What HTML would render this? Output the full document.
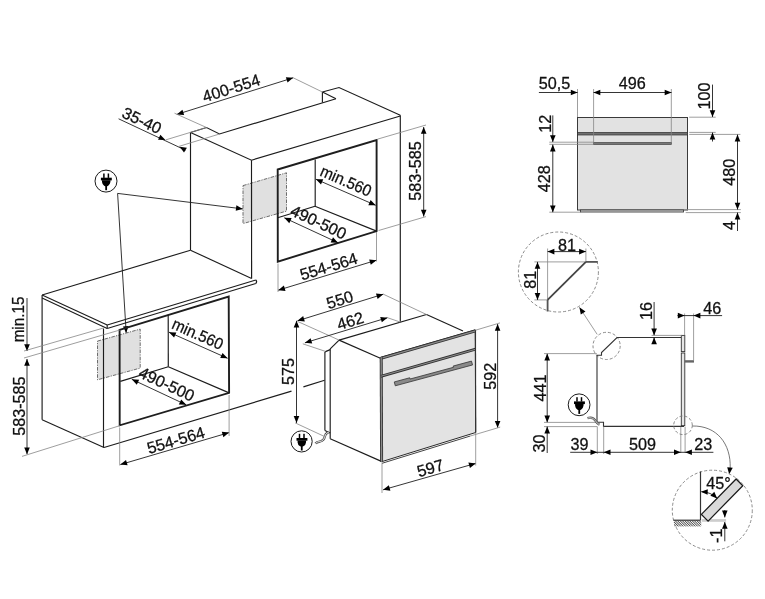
<!DOCTYPE html>
<html><head><meta charset="utf-8"><style>
html,body{margin:0;padding:0;background:#fff;}
svg{display:block;font-family:"Liberation Sans",sans-serif;will-change:transform;}
</style></head><body>
<svg width="765" height="599" viewBox="0 0 765 599">
<defs><pattern id="hatch" width="1.7" height="1.7" patternUnits="userSpaceOnUse" patternTransform="rotate(-45)"><rect width="1.7" height="1.7" fill="#fff"/><line x1="0.4" y1="0" x2="0.4" y2="1.7" stroke="#3a3a3a" stroke-width="0.8"/></pattern></defs>
<rect width="765" height="599" fill="#fff"/>
<polygon points="243.0,185.6 286.5,172.8 286.5,211.1 243.0,223.6" fill="#e0e0e0" stroke="#555" stroke-width="0.85" stroke-dasharray="3.6,1.2,1.2,1.2"/>
<polyline points="190.5,132.5 206.5,127.5 219.5,134.0 336.0,98.8" stroke="#1c1c1c" stroke-width="1.15" fill="none"/>
<line x1="322.4" y1="92.0" x2="336.0" y2="98.8" stroke="#1c1c1c" stroke-width="1.15" fill="none"/>
<line x1="322.4" y1="92.0" x2="322.4" y2="102.4" stroke="#1c1c1c" stroke-width="1.15" fill="none"/>
<polyline points="322.4,92.0 339.0,87.5 400.3,115.2" stroke="#1c1c1c" stroke-width="1.15" fill="none"/>
<polyline points="190.5,132.5 251.5,160.2 400.3,116.0" stroke="#1c1c1c" stroke-width="1.15" fill="none"/>
<line x1="190.5" y1="132.5" x2="190.5" y2="250.2" stroke="#1c1c1c" stroke-width="1.15" fill="none"/>
<line x1="251.5" y1="160.2" x2="251.6" y2="278.6" stroke="#1c1c1c" stroke-width="1.15" fill="none"/>
<line x1="400.3" y1="115.2" x2="400.3" y2="321.5" stroke="#1c1c1c" stroke-width="1.15" fill="none"/>
<line x1="190.5" y1="250.2" x2="251.6" y2="278.6" stroke="#1c1c1c" stroke-width="1.15" fill="none"/>
<polygon points="277.7,169.5 376.6,140.1 376.6,231.1 277.8,261.6" stroke="#1e1e1e" stroke-width="1.9" fill="none"/>
<line x1="315.2" y1="159.4" x2="315.2" y2="206.3" stroke="#1c1c1c" stroke-width="1.15" fill="none"/>
<line x1="315.0" y1="206.3" x2="376.6" y2="231.1" stroke="#1c1c1c" stroke-width="1.15" fill="none"/>
<line x1="277.7" y1="217.8" x2="315.0" y2="206.3" stroke="#1c1c1c" stroke-width="1.15" fill="none"/>
<line x1="118.6" y1="118.8" x2="185.5" y2="150.2" stroke="#1e1e1e" stroke-width="0.9" fill="none"/>
<polygon points="165.40,140.00 158.05,139.74 160.36,134.64" fill="#000"/>
<polygon points="179.60,146.70 186.88,147.76 184.02,152.58" fill="#000"/>
<line x1="165.7" y1="139.9" x2="206.5" y2="127.5" stroke="#858585" stroke-width="0.8" fill="none"/>
<line x1="177.9" y1="146.7" x2="219.5" y2="134.0" stroke="#858585" stroke-width="0.8" fill="none"/>
<text transform="translate(142.0,120.3) rotate(25.5) scale(1.0,1)" x="0" y="5.80" text-anchor="middle" font-size="16.2" fill="#111" stroke="#111" stroke-width="0.28">35-40</text>
<line x1="176.8" y1="114.4" x2="293.2" y2="77.8" stroke="#1e1e1e" stroke-width="0.9" fill="none"/>
<polygon points="176.80,114.40 182.45,109.69 184.13,115.03" fill="#000"/>
<polygon points="293.20,77.80 287.55,82.51 285.87,77.17" fill="#000"/>
<line x1="174.5" y1="113.2" x2="206.5" y2="127.5" stroke="#858585" stroke-width="0.8" fill="none"/>
<line x1="293.2" y1="77.8" x2="322.4" y2="92.0" stroke="#858585" stroke-width="0.8" fill="none"/>
<text transform="translate(231.2,88.0) rotate(-17.45) scale(1.0,1)" x="0" y="5.80" text-anchor="middle" font-size="16.2" fill="#111" stroke="#111" stroke-width="0.28">400-554</text>
<line x1="423.7" y1="127.0" x2="423.7" y2="216.6" stroke="#1e1e1e" stroke-width="0.9" fill="none"/>
<polygon points="423.70,127.00 426.50,133.80 420.90,133.80" fill="#000"/>
<polygon points="423.70,216.60 420.90,209.80 426.50,209.80" fill="#000"/>
<line x1="378.0" y1="139.0" x2="426.0" y2="125.0" stroke="#858585" stroke-width="0.8" fill="none"/>
<line x1="378.6" y1="230.5" x2="426.0" y2="216.6" stroke="#858585" stroke-width="0.8" fill="none"/>
<text transform="translate(415.0,171.0) rotate(-90) scale(1.0,1)" x="0" y="5.80" text-anchor="middle" font-size="16.2" fill="#111" stroke="#111" stroke-width="0.28">583-585</text>
<line x1="315.9" y1="179.2" x2="375.7" y2="205.3" stroke="#1e1e1e" stroke-width="0.9" fill="none"/>
<polygon points="315.90,179.20 323.25,179.35 321.01,184.49" fill="#000"/>
<polygon points="375.70,205.30 368.35,205.15 370.59,200.01" fill="#000"/>
<text transform="translate(346.1,180.7) rotate(23.6) scale(0.94,1)" x="0" y="5.80" text-anchor="middle" font-size="16.2" fill="#111" stroke="#111" stroke-width="0.28">min.560</text>
<line x1="284.3" y1="217.8" x2="338.0" y2="242.7" stroke="#1e1e1e" stroke-width="0.9" fill="none"/>
<polygon points="284.30,217.80 291.65,218.12 289.29,223.20" fill="#000"/>
<polygon points="338.00,242.70 330.65,242.38 333.01,237.30" fill="#000"/>
<text transform="translate(318.7,221.9) rotate(24.9) scale(1.0,1)" x="0" y="5.80" text-anchor="middle" font-size="16.2" fill="#111" stroke="#111" stroke-width="0.28">490-500</text>
<line x1="278.2" y1="290.2" x2="376.5" y2="260.2" stroke="#1e1e1e" stroke-width="0.9" fill="none"/>
<polygon points="278.20,290.20 283.89,285.54 285.52,290.89" fill="#000"/>
<polygon points="376.50,260.20 370.81,264.86 369.18,259.51" fill="#000"/>
<line x1="278.0" y1="263.6" x2="278.0" y2="292.0" stroke="#858585" stroke-width="0.8" fill="none"/>
<line x1="376.5" y1="232.0" x2="376.5" y2="261.5" stroke="#858585" stroke-width="0.8" fill="none"/>
<text transform="translate(328.6,266.3) rotate(-17.0) scale(1.0,1)" x="0" y="5.80" text-anchor="middle" font-size="16.2" fill="#111" stroke="#111" stroke-width="0.28">554-564</text>
<g transform="translate(106.0,181.1)"><circle cx="0" cy="0" r="11" stroke="#1a1a1a" stroke-width="1" fill="#fff"/><rect x="-2.85" y="-7.6" width="1.5" height="4.4" fill="#000"/><rect x="1.65" y="-7.6" width="1.5" height="4.4" fill="#000"/><rect x="-5.1" y="-3.4" width="10.9" height="2.7" fill="#000"/><path d="M-4.0,-0.8 L4.5,-0.8 L4.4,1.0 Q4.0,3.6 2.2,4.6 L1.2,5.2 L-0.9,5.2 L-1.9,4.6 Q-3.7,3.6 -4.0,1.0 Z" fill="#000"/><rect x="-0.75" y="4.5" width="1.8" height="4.6" fill="#000"/></g>
<line x1="117.6" y1="193.4" x2="242.8" y2="208.9" stroke="#1e1e1e" stroke-width="0.9" fill="none"/>
<polygon points="242.80,208.90 235.71,210.84 236.40,205.29" fill="#000"/>
<line x1="117.6" y1="193.4" x2="126.2" y2="333.0" stroke="#1e1e1e" stroke-width="0.9" fill="none"/>
<polygon points="126.20,333.00 122.99,326.39 128.58,326.04" fill="#000"/>
<polygon points="97.5,341.1 140.2,329.1 140.2,368.1 97.5,379.8" fill="#e0e0e0" stroke="#555" stroke-width="0.85" stroke-dasharray="3.6,1.2,1.2,1.2"/>
<line x1="42.1" y1="295.0" x2="190.5" y2="250.2" stroke="#1c1c1c" stroke-width="1.15" fill="none"/>
<line x1="42.1" y1="295.0" x2="107.2" y2="325.0" stroke="#1c1c1c" stroke-width="1.15" fill="none"/>
<line x1="42.1" y1="298.0" x2="107.2" y2="328.5" stroke="#1c1c1c" stroke-width="1.15" fill="none"/>
<line x1="42.1" y1="295.0" x2="42.1" y2="298.0" stroke="#1c1c1c" stroke-width="1.15" fill="none"/>
<line x1="107.2" y1="325.0" x2="255.8" y2="280.0" stroke="#1c1c1c" stroke-width="1.15" fill="none"/>
<line x1="107.2" y1="328.5" x2="255.8" y2="283.5" stroke="#1c1c1c" stroke-width="1.15" fill="none"/>
<line x1="107.2" y1="325.0" x2="107.2" y2="328.5" stroke="#1c1c1c" stroke-width="1.15" fill="none"/>
<path d="M255.8,280 Q257.5,281.7 255.8,283.5" stroke="#1c1c1c" stroke-width="1.1" fill="none"/>
<line x1="42.1" y1="298.0" x2="42.1" y2="419.7" stroke="#1c1c1c" stroke-width="1.15" fill="none"/>
<line x1="42.1" y1="419.7" x2="104.0" y2="447.5" stroke="#1c1c1c" stroke-width="1.15" fill="none"/>
<line x1="103.5" y1="328.5" x2="103.5" y2="447.5" stroke="#1c1c1c" stroke-width="1.15" fill="none"/>
<line x1="104.0" y1="447.5" x2="291.5" y2="391.1" stroke="#1c1c1c" stroke-width="1.15" fill="none"/>
<line x1="303.4" y1="386.9" x2="324.6" y2="380.2" stroke="#1c1c1c" stroke-width="1.15" fill="none"/>
<polygon points="119.6,329.8 228.7,296.6 229.1,392.9 119.7,425.3" stroke="#1e1e1e" stroke-width="1.9" fill="none"/>
<line x1="168.2" y1="314.8" x2="168.3" y2="366.7" stroke="#1c1c1c" stroke-width="1.15" fill="none"/>
<line x1="168.3" y1="366.7" x2="229.1" y2="392.9" stroke="#1c1c1c" stroke-width="1.15" fill="none"/>
<line x1="120.3" y1="381.4" x2="168.3" y2="366.7" stroke="#1c1c1c" stroke-width="1.15" fill="none"/>
<line x1="27.0" y1="298.0" x2="27.0" y2="351.0" stroke="#1e1e1e" stroke-width="0.9" fill="none"/>
<polygon points="27.00,351.00 24.20,344.20 29.80,344.20" fill="#000"/>
<line x1="24.0" y1="351.0" x2="103.5" y2="328.0" stroke="#858585" stroke-width="0.8" fill="none"/>
<line x1="24.0" y1="358.0" x2="119.9" y2="330.0" stroke="#858585" stroke-width="0.8" fill="none"/>
<text transform="translate(18.6,319.5) rotate(-90) scale(0.94,1)" x="0" y="5.80" text-anchor="middle" font-size="16.2" fill="#111" stroke="#111" stroke-width="0.28">min.15</text>
<line x1="27.0" y1="359.0" x2="27.0" y2="454.2" stroke="#1e1e1e" stroke-width="0.9" fill="none"/>
<polygon points="27.00,359.00 29.80,365.80 24.20,365.80" fill="#000"/>
<polygon points="27.00,454.20 24.20,447.40 29.80,447.40" fill="#000"/>
<line x1="22.0" y1="456.4" x2="120.0" y2="425.6" stroke="#858585" stroke-width="0.8" fill="none"/>
<text transform="translate(19.0,406.1) rotate(-90) scale(1.0,1)" x="0" y="5.80" text-anchor="middle" font-size="16.2" fill="#111" stroke="#111" stroke-width="0.28">583-585</text>
<line x1="169.0" y1="332.2" x2="227.6" y2="358.3" stroke="#1e1e1e" stroke-width="0.9" fill="none"/>
<polygon points="169.00,332.20 176.35,332.41 174.07,337.52" fill="#000"/>
<polygon points="227.60,358.30 220.25,358.09 222.53,352.98" fill="#000"/>
<text transform="translate(197.8,333.8) rotate(24) scale(0.94,1)" x="0" y="5.80" text-anchor="middle" font-size="16.2" fill="#111" stroke="#111" stroke-width="0.28">min.560</text>
<line x1="131.8" y1="379.3" x2="186.2" y2="404.8" stroke="#1e1e1e" stroke-width="0.9" fill="none"/>
<polygon points="131.80,379.30 139.15,379.65 136.77,384.72" fill="#000"/>
<polygon points="186.20,404.80 178.85,404.45 181.23,399.38" fill="#000"/>
<text transform="translate(166.8,383.9) rotate(25.1) scale(1.0,1)" x="0" y="5.80" text-anchor="middle" font-size="16.2" fill="#111" stroke="#111" stroke-width="0.28">490-500</text>
<line x1="120.3" y1="464.6" x2="229.1" y2="432.6" stroke="#1e1e1e" stroke-width="0.9" fill="none"/>
<polygon points="120.30,464.60 126.03,460.00 127.61,465.37" fill="#000"/>
<polygon points="229.10,432.60 223.37,437.20 221.79,431.83" fill="#000"/>
<line x1="119.7" y1="427.4" x2="119.7" y2="465.5" stroke="#858585" stroke-width="0.8" fill="none"/>
<line x1="229.1" y1="395.0" x2="229.1" y2="436.0" stroke="#858585" stroke-width="0.8" fill="none"/>
<text transform="translate(175.8,440.0) rotate(-16.4) scale(1.0,1)" x="0" y="5.80" text-anchor="middle" font-size="16.2" fill="#111" stroke="#111" stroke-width="0.28">554-564</text>
<line x1="339.1" y1="340.1" x2="426.5" y2="314.5" stroke="#1c1c1c" stroke-width="1.15" fill="none"/>
<line x1="426.5" y1="314.5" x2="463.0" y2="331.0" stroke="#1c1c1c" stroke-width="1.15" fill="none"/>
<line x1="339.1" y1="340.1" x2="380.4" y2="358.2" stroke="#1c1c1c" stroke-width="1.15" fill="none"/>
<line x1="339.1" y1="340.1" x2="330.2" y2="348.8" stroke="#1c1c1c" stroke-width="1.15" fill="none"/>
<line x1="330.2" y1="348.8" x2="330.2" y2="438.8" stroke="#1c1c1c" stroke-width="1.15" fill="none"/>
<line x1="330.2" y1="438.8" x2="382.0" y2="461.6" stroke="#1c1c1c" stroke-width="1.15" fill="none"/>
<line x1="324.9" y1="351.9" x2="324.9" y2="430.5" stroke="#1c1c1c" stroke-width="1.15" fill="none"/>
<line x1="324.9" y1="351.9" x2="330.2" y2="349.6" stroke="#1c1c1c" stroke-width="1.15" fill="none"/>
<line x1="324.9" y1="430.5" x2="330.2" y2="433.0" stroke="#1c1c1c" stroke-width="1.15" fill="none"/>
<polygon points="380.5,357.3 475.2,329.8 475.7,432.5 382,461.6" fill="#e3e3e3" stroke="#2a2a2a" stroke-width="1.0"/>
<line x1="380.0" y1="358.6" x2="475.6" y2="330.9" stroke="#303030" stroke-width="3.0"/>
<line x1="380.0" y1="358.6" x2="475.6" y2="330.9" stroke="#8c8c8c" stroke-width="1.30"/>
<line x1="381.2" y1="357.3" x2="381.6" y2="461.8" stroke="#303030" stroke-width="3.0"/>
<line x1="381.2" y1="357.3" x2="381.6" y2="461.8" stroke="#8c8c8c" stroke-width="1.30"/>
<line x1="380.8" y1="376.3" x2="475.6" y2="349.2" stroke="#303030" stroke-width="2.8"/>
<line x1="380.8" y1="376.3" x2="475.6" y2="349.2" stroke="#8c8c8c" stroke-width="1.10"/>
<line x1="475.5" y1="330.0" x2="475.7" y2="432.5" stroke="#333" stroke-width="1.1"/>
<line x1="382.0" y1="463.3" x2="470.0" y2="436.1" stroke="#444" stroke-width="1"/>
<polygon points="395.30,385.80 472.54,364.96 471.49,361.10 453.15,366.05 453.49,367.31 410.04,379.03 409.71,377.77 394.26,381.94" fill="#8a8a8a" stroke="#333" stroke-width="0.8" stroke-linejoin="round"/>
<line x1="297.5" y1="320.8" x2="383.3" y2="294.2" stroke="#1e1e1e" stroke-width="0.9" fill="none"/>
<polygon points="297.50,320.80 303.17,316.11 304.82,321.46" fill="#000"/>
<polygon points="383.30,294.20 377.63,298.89 375.98,293.54" fill="#000"/>
<line x1="297.5" y1="321.4" x2="339.1" y2="340.1" stroke="#858585" stroke-width="0.8" fill="none"/>
<line x1="383.3" y1="294.2" x2="426.5" y2="314.5" stroke="#858585" stroke-width="0.8" fill="none"/>
<text transform="translate(339.8,299.6) rotate(-17.2) scale(1.0,1)" x="0" y="5.80" text-anchor="middle" font-size="16.2" fill="#111" stroke="#111" stroke-width="0.28">550</text>
<line x1="304.9" y1="342.8" x2="387.5" y2="317.7" stroke="#1e1e1e" stroke-width="0.9" fill="none"/>
<polygon points="304.90,342.80 310.59,338.14 312.22,343.50" fill="#000"/>
<polygon points="387.50,317.70 381.81,322.36 380.18,317.00" fill="#000"/>
<line x1="302.8" y1="343.8" x2="325.5" y2="351.4" stroke="#858585" stroke-width="0.8" fill="none"/>
<line x1="387.5" y1="317.7" x2="400.0" y2="322.0" stroke="#858585" stroke-width="0.8" fill="none"/>
<text transform="translate(350.3,320.8) rotate(-16.9) scale(1.0,1)" x="0" y="5.80" text-anchor="middle" font-size="16.2" fill="#111" stroke="#111" stroke-width="0.28">462</text>
<line x1="296.5" y1="320.8" x2="296.5" y2="422.9" stroke="#1e1e1e" stroke-width="0.9" fill="none"/>
<polygon points="296.50,320.80 299.30,327.60 293.70,327.60" fill="#000"/>
<polygon points="296.50,422.90 293.70,416.10 299.30,416.10" fill="#000"/>
<line x1="295.2" y1="422.9" x2="324.5" y2="436.5" stroke="#858585" stroke-width="0.8" fill="none"/>
<text transform="translate(288.4,371.6) rotate(-90) scale(1.0,1)" x="0" y="5.80" text-anchor="middle" font-size="16.2" fill="#111" stroke="#111" stroke-width="0.28">575</text>
<line x1="497.6" y1="324.0" x2="497.6" y2="427.7" stroke="#1e1e1e" stroke-width="0.9" fill="none"/>
<polygon points="497.60,324.00 500.40,330.80 494.80,330.80" fill="#000"/>
<polygon points="497.60,427.70 494.80,420.90 500.40,420.90" fill="#000"/>
<line x1="475.6" y1="330.2" x2="500.0" y2="322.9" stroke="#858585" stroke-width="0.8" fill="none"/>
<line x1="470.0" y1="436.1" x2="500.2" y2="427.1" stroke="#858585" stroke-width="0.8" fill="none"/>
<text transform="translate(490.3,376.2) rotate(-90) scale(1.0,1)" x="0" y="5.80" text-anchor="middle" font-size="16.2" fill="#111" stroke="#111" stroke-width="0.28">592</text>
<line x1="383.1" y1="489.8" x2="475.7" y2="463.4" stroke="#1e1e1e" stroke-width="0.9" fill="none"/>
<polygon points="383.10,489.80 388.87,485.24 390.41,490.63" fill="#000"/>
<polygon points="475.70,463.40 469.93,467.96 468.39,462.57" fill="#000"/>
<line x1="382.0" y1="462.6" x2="382.0" y2="493.0" stroke="#858585" stroke-width="0.8" fill="none"/>
<line x1="475.7" y1="433.0" x2="475.7" y2="465.5" stroke="#858585" stroke-width="0.8" fill="none"/>
<text transform="translate(430.2,467.9) rotate(-16.5) scale(1.0,1)" x="0" y="5.80" text-anchor="middle" font-size="16.2" fill="#111" stroke="#111" stroke-width="0.28">597</text>
<g transform="translate(301.6,441.4)"><circle cx="0" cy="0" r="10.6" stroke="#1a1a1a" stroke-width="1" fill="#fff"/><rect x="-2.85" y="-7.6" width="1.5" height="4.4" fill="#000"/><rect x="1.65" y="-7.6" width="1.5" height="4.4" fill="#000"/><rect x="-5.1" y="-3.4" width="10.9" height="2.7" fill="#000"/><path d="M-4.0,-0.8 L4.5,-0.8 L4.4,1.0 Q4.0,3.6 2.2,4.6 L1.2,5.2 L-0.9,5.2 L-1.9,4.6 Q-3.7,3.6 -4.0,1.0 Z" fill="#000"/><rect x="-0.75" y="4.5" width="1.8" height="4.6" fill="#000"/></g>
<path d="M315.3,443.5 C318.5,440.5 321,442.5 323.5,439.5 C325.5,437 324.5,435 326.5,433.5 L329,431.8" stroke="#4a4a4a" stroke-width="2.3" fill="none"/>
<path d="M315.3,443.5 C318.5,440.5 321,442.5 323.5,439.5 C325.5,437 324.5,435 326.5,433.5 L329,431.8" stroke="#fff" stroke-width="0.9" fill="none"/>
<rect x="577.5" y="117.5" width="110" height="92.5" fill="#e2e2e2" stroke="#3a3a3a" stroke-width="1"/>
<rect x="577.5" y="132.4" width="110" height="2.6" fill="#707070" stroke="#303030" stroke-width="0.7"/>
<rect x="593.6" y="142.5" width="78.0" height="2.0" fill="#777" stroke="#333" stroke-width="0.6"/>
<rect x="580.5" y="210.0" width="103" height="2.0" fill="#e2e2e2" stroke="#3a3a3a" stroke-width="0.9"/>
<line x1="577.5" y1="89.0" x2="577.5" y2="117.0" stroke="#858585" stroke-width="0.8" fill="none"/>
<line x1="593.6" y1="89.0" x2="593.6" y2="143.7" stroke="#858585" stroke-width="0.8" fill="none"/>
<line x1="671.3" y1="89.0" x2="671.3" y2="143.7" stroke="#858585" stroke-width="0.8" fill="none"/>
<line x1="549.3" y1="142.2" x2="593.6" y2="142.2" stroke="#858585" stroke-width="0.8" fill="none"/>
<line x1="549.3" y1="144.3" x2="593.6" y2="144.3" stroke="#858585" stroke-width="0.8" fill="none"/>
<line x1="549.3" y1="212.2" x2="580.7" y2="212.2" stroke="#858585" stroke-width="0.8" fill="none"/>
<line x1="689.2" y1="117.2" x2="715.7" y2="117.2" stroke="#858585" stroke-width="0.8" fill="none"/>
<line x1="689.2" y1="132.4" x2="715.7" y2="132.4" stroke="#858585" stroke-width="0.8" fill="none"/>
<line x1="689.2" y1="134.4" x2="740.4" y2="134.4" stroke="#858585" stroke-width="0.8" fill="none"/>
<line x1="685.7" y1="209.6" x2="740.8" y2="209.6" stroke="#858585" stroke-width="0.8" fill="none"/>
<line x1="685.7" y1="212.6" x2="740.8" y2="212.6" stroke="#858585" stroke-width="0.8" fill="none"/>
<line x1="538.9" y1="92.5" x2="577.6" y2="92.5" stroke="#1e1e1e" stroke-width="0.9" fill="none"/>
<polygon points="577.60,92.50 570.80,95.30 570.80,89.70" fill="#000"/>
<line x1="593.5" y1="92.5" x2="671.5" y2="92.5" stroke="#1e1e1e" stroke-width="0.9" fill="none"/>
<polygon points="593.50,92.50 600.30,89.70 600.30,95.30" fill="#000"/>
<polygon points="671.50,92.50 664.70,95.30 664.70,89.70" fill="#000"/>
<text transform="translate(554.6,83.1) rotate(0.01) scale(1.0,1)" x="0" y="5.80" text-anchor="middle" font-size="16.2" fill="#111" stroke="#111" stroke-width="0.28">50,5</text>
<text transform="translate(632.3,83.1) rotate(0.01) scale(1.0,1)" x="0" y="5.80" text-anchor="middle" font-size="16.2" fill="#111" stroke="#111" stroke-width="0.28">496</text>
<line x1="712.5" y1="84.6" x2="712.5" y2="117.0" stroke="#1e1e1e" stroke-width="0.9" fill="none"/>
<polygon points="712.50,117.00 709.70,110.20 715.30,110.20" fill="#000"/>
<line x1="712.5" y1="141.5" x2="712.5" y2="132.6" stroke="#1e1e1e" stroke-width="0.9" fill="none"/>
<polygon points="712.50,132.60 715.30,139.40 709.70,139.40" fill="#000"/>
<text transform="translate(704.3,96.0) rotate(-90) scale(1.0,1)" x="0" y="5.80" text-anchor="middle" font-size="16.2" fill="#111" stroke="#111" stroke-width="0.28">100</text>
<line x1="737.5" y1="134.6" x2="737.5" y2="209.6" stroke="#1e1e1e" stroke-width="0.9" fill="none"/>
<polygon points="737.50,134.60 740.30,141.40 734.70,141.40" fill="#000"/>
<polygon points="737.50,209.60 734.70,202.80 740.30,202.80" fill="#000"/>
<line x1="737.5" y1="231.0" x2="737.5" y2="212.6" stroke="#1e1e1e" stroke-width="0.9" fill="none"/>
<polygon points="737.50,212.60 740.30,219.40 734.70,219.40" fill="#000"/>
<text transform="translate(728.8,172.2) rotate(-90) scale(1.0,1)" x="0" y="5.80" text-anchor="middle" font-size="16.2" fill="#111" stroke="#111" stroke-width="0.28">480</text>
<text transform="translate(728.8,225.4) rotate(-90) scale(1.0,1)" x="0" y="5.80" text-anchor="middle" font-size="16.2" fill="#111" stroke="#111" stroke-width="0.28">4</text>
<line x1="552.8" y1="115.4" x2="552.8" y2="142.0" stroke="#1e1e1e" stroke-width="0.9" fill="none"/>
<polygon points="552.80,142.00 550.00,135.20 555.60,135.20" fill="#000"/>
<text transform="translate(545.1,123.8) rotate(-90) scale(1.0,1)" x="0" y="5.80" text-anchor="middle" font-size="16.2" fill="#111" stroke="#111" stroke-width="0.28">12</text>
<line x1="552.8" y1="144.6" x2="552.8" y2="212.2" stroke="#1e1e1e" stroke-width="0.9" fill="none"/>
<polygon points="552.80,144.60 555.60,151.40 550.00,151.40" fill="#000"/>
<polygon points="552.80,212.20 550.00,205.40 555.60,205.40" fill="#000"/>
<text transform="translate(544.1,178.7) rotate(-90) scale(1.0,1)" x="0" y="5.80" text-anchor="middle" font-size="16.2" fill="#111" stroke="#111" stroke-width="0.28">428</text>
<circle cx="558.4" cy="272.0" r="40" stroke="#777" stroke-width="0.85" stroke-dasharray="3,2" fill="none"/>
<line x1="534.4" y1="261.9" x2="585.9" y2="261.9" stroke="#858585" stroke-width="0.8" fill="none"/>
<line x1="547.6" y1="248.5" x2="547.6" y2="299.9" stroke="#858585" stroke-width="0.8" fill="none"/>
<line x1="585.9" y1="248.5" x2="585.9" y2="261.9" stroke="#858585" stroke-width="0.8" fill="none"/>
<line x1="534.4" y1="299.9" x2="547.6" y2="299.9" stroke="#858585" stroke-width="0.8" fill="none"/>
<line x1="585.9" y1="261.9" x2="597.8" y2="261.9" stroke="#555" stroke-width="1.8"/>
<line x1="585.9" y1="261.9" x2="547.6" y2="299.9" stroke="#444" stroke-width="1.8"/>
<line x1="547.6" y1="299.9" x2="547.6" y2="311.5" stroke="#555" stroke-width="1.8"/>
<line x1="547.6" y1="251.6" x2="585.9" y2="251.6" stroke="#1e1e1e" stroke-width="0.9" fill="none"/>
<polygon points="547.60,251.60 554.40,248.80 554.40,254.40" fill="#000"/>
<polygon points="585.90,251.60 579.10,254.40 579.10,248.80" fill="#000"/>
<line x1="537.5" y1="261.9" x2="537.5" y2="299.9" stroke="#1e1e1e" stroke-width="0.9" fill="none"/>
<polygon points="537.50,261.90 540.30,268.70 534.70,268.70" fill="#000"/>
<polygon points="537.50,299.90 534.70,293.10 540.30,293.10" fill="#000"/>
<text transform="translate(567.1,244.8) rotate(0.01) scale(1.0,1)" x="0" y="5.80" text-anchor="middle" font-size="16.2" fill="#111" stroke="#111" stroke-width="0.28">81</text>
<text transform="translate(529.8,279.7) rotate(-90) scale(1.0,1)" x="0" y="5.80" text-anchor="middle" font-size="16.2" fill="#111" stroke="#111" stroke-width="0.28">81</text>
<line x1="597.2" y1="334.4" x2="579.4" y2="307.3" stroke="#858585" stroke-width="0.8" fill="none"/>
<polygon points="579.40,307.30 585.47,311.45 580.79,314.52" fill="#000"/>
<circle cx="606.6" cy="345.9" r="13.6" stroke="#777" stroke-width="0.85" stroke-dasharray="3,2" fill="none"/>
<polyline points="597.0,422.3 597.0,355.3 601.5,355.3 601.5,352.5 617.0,337.5 681.3,337.5" stroke="#333" stroke-width="1.1" fill="none"/>
<line x1="570.0" y1="353.6" x2="596.8" y2="353.6" stroke="#858585" stroke-width="0.8" fill="none"/>
<rect x="681.3" y="335.4" width="3.5" height="16.2" fill="#e6e6e6" stroke="#333" stroke-width="0.9"/>
<rect x="681.3" y="353.0" width="3.5" height="72.7" fill="#e6e6e6" stroke="#333" stroke-width="0.9"/>
<line x1="684.8" y1="361.4" x2="694.0" y2="361.4" stroke="#666" stroke-width="2.4"/>
<line x1="684.6" y1="313.5" x2="684.6" y2="335.4" stroke="#858585" stroke-width="0.8" fill="none"/>
<line x1="693.6" y1="313.5" x2="693.6" y2="360.5" stroke="#858585" stroke-width="0.8" fill="none"/>
<polyline points="597.0,422.3 603.5,422.3 603.5,426.4 684.0,426.4" stroke="#333" stroke-width="1.1" fill="none"/>
<line x1="547.2" y1="353.6" x2="547.2" y2="422.4" stroke="#1e1e1e" stroke-width="0.9" fill="none"/>
<polygon points="547.20,353.60 550.00,360.40 544.40,360.40" fill="#000"/>
<polygon points="547.20,422.40 544.40,415.60 550.00,415.60" fill="#000"/>
<line x1="544.0" y1="422.4" x2="597.0" y2="422.4" stroke="#858585" stroke-width="0.8" fill="none"/>
<line x1="544.0" y1="426.6" x2="597.0" y2="426.6" stroke="#858585" stroke-width="0.8" fill="none"/>
<line x1="544.0" y1="353.6" x2="570.0" y2="353.6" stroke="#858585" stroke-width="0.8" fill="none"/>
<line x1="547.2" y1="453.0" x2="547.2" y2="426.6" stroke="#1e1e1e" stroke-width="0.9" fill="none"/>
<polygon points="547.20,426.60 550.00,433.40 544.40,433.40" fill="#000"/>
<text transform="translate(539.9,388.1) rotate(-90) scale(1.0,1)" x="0" y="5.80" text-anchor="middle" font-size="16.2" fill="#111" stroke="#111" stroke-width="0.28">441</text>
<text transform="translate(538.8,443.6) rotate(-90) scale(1.0,1)" x="0" y="5.80" text-anchor="middle" font-size="16.2" fill="#111" stroke="#111" stroke-width="0.28">30</text>
<line x1="654.1" y1="302.0" x2="654.1" y2="335.4" stroke="#1e1e1e" stroke-width="0.9" fill="none"/>
<polygon points="654.10,335.40 651.30,328.60 656.90,328.60" fill="#000"/>
<line x1="654.1" y1="344.0" x2="654.1" y2="337.5" stroke="#1e1e1e" stroke-width="0.9" fill="none"/>
<polygon points="654.10,337.50 656.90,344.30 651.30,344.30" fill="#000"/>
<line x1="651.6" y1="335.4" x2="681.9" y2="335.4" stroke="#858585" stroke-width="0.8" fill="none"/>
<text transform="translate(646.0,311.0) rotate(-90) scale(1.0,1)" x="0" y="5.80" text-anchor="middle" font-size="16.2" fill="#111" stroke="#111" stroke-width="0.28">16</text>
<line x1="677.4" y1="315.6" x2="722.1" y2="315.6" stroke="#1e1e1e" stroke-width="0.9" fill="none"/>
<polygon points="684.60,315.60 677.80,318.40 677.80,312.80" fill="#000"/>
<polygon points="693.60,315.60 700.40,312.80 700.40,318.40" fill="#000"/>
<text transform="translate(712.3,308.2) rotate(0.01) scale(1.0,1)" x="0" y="5.80" text-anchor="middle" font-size="16.2" fill="#111" stroke="#111" stroke-width="0.28">46</text>
<line x1="597.3" y1="426.4" x2="597.3" y2="454.0" stroke="#858585" stroke-width="0.8" fill="none"/>
<line x1="603.7" y1="426.4" x2="603.7" y2="454.0" stroke="#858585" stroke-width="0.8" fill="none"/>
<line x1="680.8" y1="426.8" x2="680.8" y2="453.0" stroke="#858585" stroke-width="0.8" fill="none"/>
<line x1="685.1" y1="426.8" x2="685.1" y2="453.0" stroke="#858585" stroke-width="0.8" fill="none"/>
<line x1="570.2" y1="452.3" x2="713.4" y2="452.3" stroke="#1e1e1e" stroke-width="0.9" fill="none"/>
<polygon points="597.30,452.30 590.50,455.10 590.50,449.50" fill="#000"/>
<polygon points="603.70,452.30 610.50,449.50 610.50,455.10" fill="#000"/>
<polygon points="680.80,452.30 674.00,455.10 674.00,449.50" fill="#000"/>
<polygon points="685.10,452.30 691.90,449.50 691.90,455.10" fill="#000"/>
<text transform="translate(579.6,444.6) rotate(0.01) scale(1.0,1)" x="0" y="5.80" text-anchor="middle" font-size="16.2" fill="#111" stroke="#111" stroke-width="0.28">39</text>
<text transform="translate(642.4,444.6) rotate(0.01) scale(1.0,1)" x="0" y="5.80" text-anchor="middle" font-size="16.2" fill="#111" stroke="#111" stroke-width="0.28">509</text>
<text transform="translate(703.2,444.2) rotate(0.01) scale(1.0,1)" x="0" y="5.80" text-anchor="middle" font-size="16.2" fill="#111" stroke="#111" stroke-width="0.28">23</text>
<circle cx="683.0" cy="425.3" r="9.3" stroke="#777" stroke-width="0.85" stroke-dasharray="3,2" fill="none"/>
<g transform="translate(579.1,404.8)"><circle cx="0" cy="0" r="10.9" stroke="#1a1a1a" stroke-width="1" fill="#fff"/><rect x="-2.85" y="-7.6" width="1.5" height="4.4" fill="#000"/><rect x="1.65" y="-7.6" width="1.5" height="4.4" fill="#000"/><rect x="-5.1" y="-3.4" width="10.9" height="2.7" fill="#000"/><path d="M-4.0,-0.8 L4.5,-0.8 L4.4,1.0 Q4.0,3.6 2.2,4.6 L1.2,5.2 L-0.9,5.2 L-1.9,4.6 Q-3.7,3.6 -4.0,1.0 Z" fill="#000"/><rect x="-0.75" y="4.5" width="1.8" height="4.6" fill="#000"/></g>
<path d="M587.5,418.2 C591.5,416.8 594.5,419 596,421.5 C597,423 598,424 599.5,424.7" stroke="#555" stroke-width="2.3" fill="none"/>
<path d="M587.5,418.2 C591.5,416.8 594.5,419 596,421.5 C597,423 598,424 599.5,424.7" stroke="#ddd" stroke-width="0.9" fill="none"/>
<path d="M692.3,426.0 C717,425.5 731,444 730.2,468" stroke="#555" stroke-width="0.8" fill="none"/>
<polygon points="729.20,474.30 727.21,467.22 732.77,467.87" fill="#000"/>
<circle cx="712.3" cy="510.2" r="40" stroke="#777" stroke-width="0.85" stroke-dasharray="3,2" fill="none"/>
<rect x="674.0" y="520.4" width="27.2" height="6.0" fill="url(#hatch)"/>
<line x1="673.4" y1="520.2" x2="700.5" y2="520.2" stroke="#333" stroke-width="1.2"/>
<line x1="700.5" y1="471.5" x2="700.5" y2="520.2" stroke="#333" stroke-width="1.2"/>
<rect x="702.0" y="519.1" width="24.1" height="2.7" fill="#cdcdcd"/>
<polygon points="701.4,514.4 736.1,479.0 742.8,485.7 708.1,521.1" fill="#d9d9d9" stroke="#1a1a1a" stroke-width="1.25"/>
<path d="M701.5,491.7 A23,23 0 0 1 717.2,498.4" stroke="#222" stroke-width="0.9" fill="none"/>
<polygon points="700.90,491.70 707.80,489.17 707.59,494.76" fill="#000"/>
<polygon points="717.20,498.40 710.37,495.66 714.28,491.65" fill="#000"/>
<text transform="translate(718.4,483.5) rotate(0.01) scale(1.0,1)" x="0" y="5.80" text-anchor="middle" font-size="16.2" fill="#111" stroke="#111" stroke-width="0.28">45°</text>
<line x1="724.8" y1="510.0" x2="724.8" y2="517.4" stroke="#1e1e1e" stroke-width="0.9" fill="none"/>
<polygon points="724.80,517.40 722.00,510.60 727.60,510.60" fill="#000"/>
<line x1="724.8" y1="541.3" x2="724.8" y2="522.0" stroke="#1e1e1e" stroke-width="0.9" fill="none"/>
<polygon points="724.80,522.00 727.60,528.80 722.00,528.80" fill="#000"/>
<text transform="translate(716.5,535.8) rotate(-90) scale(1.0,1)" x="0" y="5.80" text-anchor="middle" font-size="16.2" fill="#111" stroke="#111" stroke-width="0.28">-1</text>
</svg>
</body></html>
